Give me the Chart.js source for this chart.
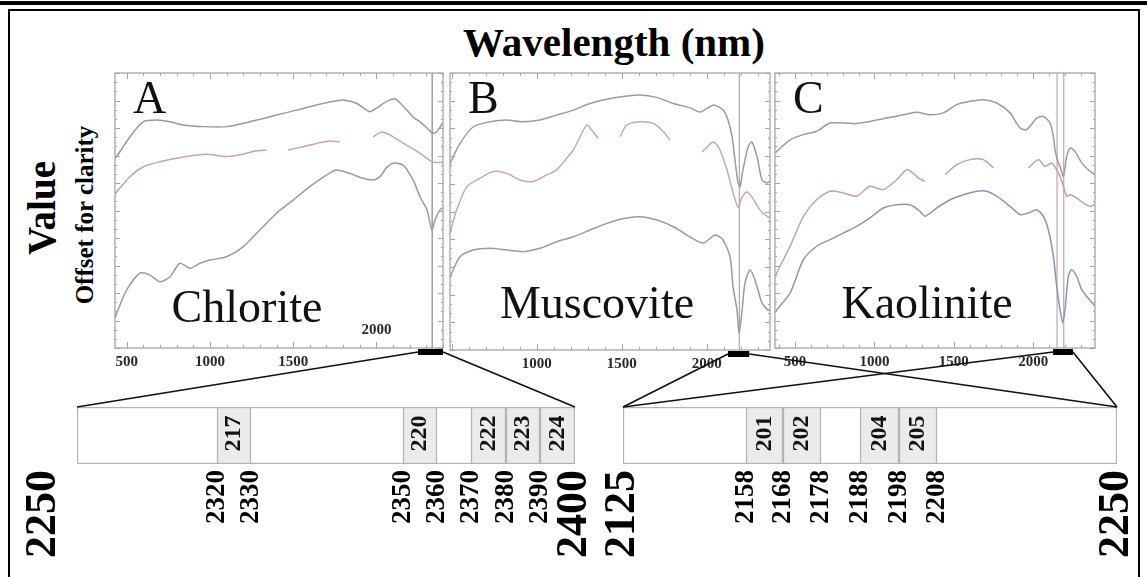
<!DOCTYPE html>
<html>
<head>
<meta charset="utf-8">
<script src="https://cdn.jsdelivr.net/npm/chart.js@4.4.1/dist/chart.umd.min.js"></script>
<style>
  html, body { margin: 0; padding: 0; background: #fff; }
  #page { position: relative; width: 1147px; height: 577px; overflow: hidden; font-family: "Liberation Serif", "Times New Roman", serif; }
  #page canvas, #page div { position: absolute; }
  #topRule { left: 0; top: 1px; width: 1147px; height: 4px; background: #000; }
  #frame { left: 8px; top: 9px; width: 1128px; height: 600px; border: 2px solid #000; }
  #title { left: 364px; top: 21px; width: 500px; text-align: center; font-weight: bold; font-size: 41px; line-height: 42px; }
  .vtext { text-align: center; font-weight: bold; transform: rotate(-90deg); white-space: nowrap; }
  #yTitle { left: -108px; top: 188px; width: 300px; height: 40px; line-height: 40px; font-size: 39px; }
  #ySub { left: -65px; top: 202px; width: 300px; height: 26px; line-height: 26px; font-size: 25px; }
</style>
</head>
<body>
<div id="page">
  <div id="topRule"></div>
  <div id="frame"></div>
  <div id="title">Wavelength (nm)</div>
  <div id="yTitle" class="vtext">Value</div>
  <div id="ySub" class="vtext">Offset for clarity</div>
  <canvas id="chartA" width="360" height="320" style="left:100px;top:60px"></canvas>
  <canvas id="chartB" width="345" height="320" style="left:440px;top:60px"></canvas>
  <canvas id="chartC" width="345" height="320" style="left:765px;top:60px"></canvas>
  <canvas id="bandLeft" width="640" height="237" style="left:0px;top:340px"></canvas>
  <canvas id="bandRight" width="620" height="237" style="left:560px;top:340px"></canvas>
</div>
<script>
// spectra: [wavelength nm, offset value]; null = gap in the trace
const chloriteUpper = [[432,6.9],[440,6.96],[520,7.68],[600,8.23],[680,8.29],[760,8.23],[840,8.11],[960,8.05],[1100,8.05],[1240,8.23],[1400,8.47],[1520,8.65],[1640,8.84],[1760,8.99],[1800,9.02],[1880,8.9],[1960,8.59],[2000,8.72],[2060,8.96],[2110,9.06],[2160,8.8],[2220,8.4],[2262,8.22],[2304,8.0],[2335,7.82],[2360,7.85],[2400,8.2]];
const chloriteMiddle = [[432,5.6],[440,5.68],[520,6.23],[600,6.59],[700,6.77],[800,6.9],[920,7.02],[1000,7.04],[1100,6.96],[1200,7.05],[1280,7.17],[1340,7.2],[1400,null],[1470,7.2],[1560,7.32],[1640,7.44],[1720,7.53],[1780,7.5],[1880,null],[1980,7.68],[2030,7.85],[2070,7.78],[2100,7.68],[2180,7.38],[2262,7.08],[2335,6.77],[2400,6.75]];
const chloriteLower = [[432,1.1],[440,1.26],[500,2.11],[580,2.72],[640,2.65],[700,2.41],[760,2.59],[820,3.08],[880,2.9],[940,3.08],[1000,3.2],[1100,3.32],[1200,3.68],[1300,4.29],[1400,4.9],[1500,5.38],[1600,5.87],[1700,6.29],[1760,6.47],[1840,6.35],[1920,6.17],[1980,6.11],[2022,6.23],[2060,6.55],[2100,6.72],[2160,6.65],[2220,6.11],[2262,5.5],[2304,5.02],[2322,4.55],[2334,4.29],[2352,4.65],[2382,5.02],[2400,5.1]];

const muscoviteUpper = [[490,6.7],[500,6.86],[549,7.46],[627,8.06],[725,8.24],[823,8.3],[921,8.24],[1019,8.3],[1117,8.48],[1215,8.66],[1313,8.9],[1412,9.05],[1510,9.15],[1608,9.21],[1706,9.12],[1804,8.9],[1902,8.74],[1961,8.59],[2038,8.84],[2097,8.66],[2125,8.3],[2149,7.69],[2166,6.86],[2184,6.03],[2196,5.9],[2213,6.5],[2243,7.33],[2266,7.51],[2296,6.97],[2325,6.14],[2355,6.03],[2372,6.1]];
const muscoviteMiddle = [[490,4.21],[529,5.05],[588,5.89],[666,6.2],[745,6.44],[823,6.38],[902,6.14],[980,6.08],[1059,6.32],[1117,6.5],[1176,6.92],[1215,7.22],[1255,7.7],[1294,8.12],[1323,7.94],[1362,7.64],[1420,null],[1490,7.7],[1529,8.12],[1608,8.24],[1686,8.18],[1745,7.88],[1784,7.58],[1880,null],[1973,7.15],[2038,7.51],[2078,7.22],[2119,6.5],[2155,5.67],[2184,5.16],[2208,5.52],[2237,5.7],[2266,5.52],[2314,5.05],[2361,4.8],[2372,4.8]];
const muscoviteLower = [[490,2.6],[500,2.77],[549,3.37],[627,3.61],[725,3.67],[823,3.61],[921,3.55],[1019,3.67],[1117,3.91],[1215,4.09],[1313,4.33],[1412,4.57],[1510,4.75],[1608,4.81],[1706,4.69],[1804,4.45],[1902,4.08],[1979,3.86],[2049,4.15],[2096,3.97],[2137,3.36],[2155,2.27],[2178,1.44],[2190,0.6],[2208,1.44],[2225,2.42],[2255,2.89],[2284,2.53],[2325,1.7],[2361,1.44],[2372,1.45]];

const kaoliniteUpper = [[376,7.1],[385,7.15],[469,7.57],[553,7.76],[636,7.88],[720,8.18],[804,8.18],[888,8.16],[972,8.24],[1077,8.36],[1182,8.48],[1266,8.57],[1350,8.48],[1434,8.55],[1518,8.85],[1602,8.97],[1686,9.03],[1770,8.91],[1854,8.55],[1917,8.0],[1959,7.94],[2022,8.36],[2064,8.42],[2106,8.18],[2127,7.69],[2137,7.21],[2158,6.73],[2169,6.6],[2190,6.24],[2211,6.97],[2232,7.27],[2263,7.15],[2305,6.73],[2347,6.48],[2389,6.3]];
const kaoliniteMiddle = [[376,2.6],[385,2.73],[469,3.7],[553,4.79],[636,5.39],[720,5.7],[804,5.64],[888,5.52],[972,5.88],[1056,5.76],[1140,6.12],[1203,6.48],[1245,6.36],[1277,6.18],[1319,6.06],[1380,null],[1445,6.3],[1518,6.67],[1602,6.85],[1686,6.85],[1749,6.55],[1850,null],[1969,6.55],[2032,6.85],[2074,6.6],[2116,6.73],[2148,6.48],[2169,6.24],[2190,5.88],[2211,5.51],[2232,5.57],[2274,5.45],[2316,5.27],[2358,5.15],[2389,5.21]];
const kaoliniteLower = [[376,1.3],[385,1.39],[469,2.0],[553,3.21],[636,3.7],[720,3.94],[804,4.18],[888,4.42],[972,4.73],[1056,5.09],[1140,5.21],[1224,5.21],[1287,4.97],[1319,4.79],[1392,5.09],[1476,5.39],[1560,5.57],[1644,5.7],[1707,5.7],[1770,5.52],[1854,5.15],[1917,4.85],[1969,4.91],[2022,5.03],[2064,4.79],[2095,4.3],[2127,3.33],[2148,2.24],[2169,1.39],[2186,0.91],[2200,1.39],[2221,2.6],[2242,2.85],[2274,2.6],[2305,2.12],[2337,1.88],[2389,1.51]];

// axis ticks printed under each panel (Chlorite's 2000 sits inside the plot)
const chloriteTicks = [500, 1000, 1500];
const chloriteInnerTick = 2000;
const muscoviteTicks = [1000, 1500, 2000];
const kaoliniteTicks = [500, 1000, 1500, 2000];

// absorption marker lines
const chloriteMarkers = [2335];
const muscoviteMarkers = [2192];
const kaoliniteMarkers = [2150, 2192];

// zoomed windows
const leftZoom = [2250, 2400];
const rightZoom = [2125, 2250];

// band strips
const leftBandTicks = [2250, 2320, 2330, 2350, 2360, 2370, 2380, 2390, 2400];
const leftBands = [[2320, 2330], [2350, 2360], [2370, 2380], [2380, 2390], [2390, 2400]];
const leftBandNames = ['217', '220', '222', '223', '224'];

const rightBandTicks = [2125, 2158, 2168, 2178, 2188, 2198, 2208, 2250];
const rightBands = [[2158, 2168], [2168, 2178], [2188, 2198], [2198, 2208]];
const rightBandNames = ['201', '202', '204', '205'];

const SERIF = '"Liberation Serif", "Times New Roman", serif';
const spectra = {};

// schematic (not-to-scale) axis: each interval between breaks gets its own share of the width
class SchematicScale extends Chart.LinearScale {
  static id = 'schematic';
  buildTicks() {
    return this.options.breaks.map(v => ({ value: v }));
  }
  toDecimal(value) {
    const b = this.options.breaks, w = this.options.segments;
    const total = w.reduce((s, v) => s + v, 0);
    let acc = 0;
    for (let i = 0; i < w.length; i++) {
      if (value <= b[i + 1] || i === w.length - 1) {
        return (acc + w[i] * (value - b[i]) / (b[i + 1] - b[i])) / total;
      }
      acc += w[i];
    }
    return 0;
  }
  getPixelForValue(value) {
    return value === null ? NaN : this.getPixelForDecimal(this.toDecimal(value));
  }
  // the first label sits a little left of its edge in the original figure
  getPixelForTick(index) {
    const p = this.getPixelForValue(this.ticks[index].value);
    return index === 0 ? p + (this.options.leadShift || 0) : p;
  }
  getValueForPixel(pixel) {
    const b = this.options.breaks, w = this.options.segments;
    const total = w.reduce((s, v) => s + v, 0);
    let d = this.getDecimalForPixel(pixel) * total;
    for (let i = 0; i < w.length; i++) {
      if (d <= w[i] || i === w.length - 1) return b[i] + (b[i + 1] - b[i]) * d / w[i];
      d -= w[i];
    }
    return b[0];
  }
}
Chart.register(SchematicScale);

const toPoints = pairs => pairs.map(([x, y]) => ({ x, y }));

function panelDecor(o) {
  return {
    id: 'panelDecor',
    beforeDatasetsDraw(chart) {
      const { ctx, chartArea: a, scales: { x } } = chart;
      ctx.save();
      ctx.strokeStyle = o.markerColor;
      ctx.lineWidth = 1.3;
      o.markers.forEach(m => {
        const px = x.getPixelForValue(m);
        ctx.beginPath(); ctx.moveTo(px, a.top); ctx.lineTo(px, a.bottom); ctx.stroke();
      });
      ctx.restore();
    },
    afterDraw(chart) {
      const { ctx, chartArea: a, scales: { x, y } } = chart;
      ctx.save();
      ctx.strokeStyle = '#a6a6a6';
      ctx.lineWidth = 1.3;
      ctx.strokeRect(a.left, a.top, a.right - a.left, a.bottom - a.top);
      ctx.lineWidth = 1;
      ctx.beginPath();
      for (let w = Math.ceil(x.min / 100) * 100; w <= x.max; w += 100) {
        const px = Math.round(x.getPixelForValue(w)) + 0.5;
        const len = w % 500 === 0 ? 6 : 3;
        ctx.moveTo(px, a.bottom); ctx.lineTo(px, a.bottom - len);
        ctx.moveTo(px, a.top); ctx.lineTo(px, a.top + len);
      }
      for (let v = 0; v <= 10; v += 1 / 3) {
        const py = Math.round(y.getPixelForValue(v)) + 0.5;
        const len = Math.abs(v - Math.round(v)) < 0.01 ? 5 : 2;
        ctx.moveTo(a.left, py); ctx.lineTo(a.left + len, py);
        ctx.moveTo(a.right, py); ctx.lineTo(a.right - len, py);
      }
      ctx.stroke();

      ctx.fillStyle = '#111';
      ctx.textBaseline = 'alphabetic';
      ctx.textAlign = 'left';
      ctx.font = '46px ' + SERIF;
      ctx.fillText(o.letter, a.left + 18, a.top + 40);
      ctx.textAlign = 'center';
      ctx.fillText(o.name, a.left + o.nameDx, a.bottom - o.nameDy);
      if (o.innerTick) {
        ctx.font = 'bold 15px ' + SERIF;
        ctx.fillStyle = '#2a2a2a';
        ctx.textBaseline = 'middle';
        ctx.fillText(String(o.innerTick), x.getPixelForValue(o.innerTick), a.bottom - 18);
      }
      ctx.restore();
    }
  };
}

function spectrum(id, o) {
  spectra[id] = new Chart(document.getElementById(id), {
    type: 'line',
    data: {
      datasets: o.curves.map((c, i) => ({
        data: toPoints(c),
        borderColor: o.colors[i],
        borderWidth: 1.5,
        pointRadius: 0,
        tension: 0.25,
        spanGaps: false,
        fill: false
      }))
    },
    options: {
      responsive: false,
      animation: false,
      events: [],
      layout: { padding: o.padding },
      plugins: { legend: { display: false }, tooltip: { enabled: false } },
      scales: {
        x: {
          type: 'linear', min: o.range[0], max: o.range[1],
          grid: { display: false, drawTicks: false },
          border: { display: false },
          afterBuildTicks: s => { s.ticks = o.ticks.map(v => ({ value: v })); },
          afterFit: s => { s.height = 22; },
          ticks: { padding: 5, color: '#2a2a2a', font: { family: SERIF, size: 15, weight: 'bold' }, callback: v => String(v) }
        },
        y: { display: false, min: 0, max: 10 }
      }
    },
    plugins: [panelDecor(o)]
  });
}

spectrum('chartA', {
  curves: [chloriteUpper, chloriteMiddle, chloriteLower],
  colors: ['#9a99a3', '#c9a2ab', '#9c9aa6'],
  range: [430, 2400], ticks: chloriteTicks, innerTick: chloriteInnerTick,
  markers: chloriteMarkers, markerColor: '#8f8f97',
  letter: 'A', name: 'Chlorite', nameDx: 132, nameDy: 26,
  padding: { left: 15, right: 17, top: 13, bottom: 10 }
});
spectrum('chartB', {
  curves: [muscoviteUpper, muscoviteMiddle, muscoviteLower],
  colors: ['#9b9b9e', '#cba6ae', '#999aa2'],
  range: [490, 2372], ticks: muscoviteTicks,
  markers: muscoviteMarkers, markerColor: '#c49ccc',
  letter: 'B', name: 'Muscovite', nameDx: 147, nameDy: 32,
  padding: { left: 10, right: 15, top: 13, bottom: 8 }
});
spectrum('chartC', {
  curves: [kaoliniteUpper, kaoliniteMiddle, kaoliniteLower],
  colors: ['#9c9c9f', '#c5a0ab', '#8e94ae'],
  range: [374, 2389], ticks: kaoliniteTicks,
  markers: kaoliniteMarkers, markerColor: '#d2a6b6',
  letter: 'C', name: 'Kaolinite', nameDx: 152, nameDy: 30,
  padding: { left: 10, right: 15, top: 13, bottom: 10 }
});

const cellText = {
  id: 'cellText',
  afterDatasetsDraw(chart) {
    const ctx = chart.ctx;
    chart.data.datasets.forEach((ds, i) => {
      if (!ds.cellName) return;
      const bar = chart.getDatasetMeta(i).data[0];
      ctx.save();
      ctx.translate((bar.x + bar.base) / 2, bar.y - 2);
      ctx.rotate(-Math.PI / 2);
      ctx.font = 'bold 24px ' + SERIF;
      ctx.fillStyle = '#111';
      ctx.textAlign = 'center';
      ctx.textBaseline = 'middle';
      ctx.fillText(ds.cellName, 0, 0);
      ctx.restore();
    });
  }
};

function zoomLinks(sources) {
  return {
    id: 'zoomLinks',
    afterDraw(chart) {
      const { ctx, chartArea } = chart;
      const xs = chart.scales.x;
      const boxL = xs.getPixelForValue(xs.min), boxR = xs.getPixelForValue(xs.max);
      ctx.save();
      ctx.strokeStyle = '#111';
      ctx.fillStyle = '#000';
      ctx.lineWidth = 1.6;
      sources.forEach(({ panel, range }) => {
        const src = spectra[panel];
        const dx = src.canvas.offsetLeft - chart.canvas.offsetLeft;
        const dy = src.canvas.offsetTop - chart.canvas.offsetTop;
        const l = src.scales.x.getPixelForValue(range[0]) + dx;
        const r = src.scales.x.getPixelForValue(range[1]) + dx;
        const yb = src.chartArea.bottom + dy + 4;
        ctx.fillRect(l, yb - 3, r - l, 6);
        ctx.beginPath();
        ctx.moveTo(l, yb); ctx.lineTo(boxL, chartArea.top);
        ctx.moveTo(r, yb); ctx.lineTo(boxR, chartArea.top);
        ctx.stroke();
      });
      ctx.restore();
    }
  };
}

function bandStrip(id, o) {
  const edges = o.ticks;
  const last = edges.length - 1;
  return new Chart(document.getElementById(id), {
    type: 'bar',
    data: {
      labels: ['band'],
      datasets: [
        { data: [[edges[0], edges[last]]], backgroundColor: '#fff', borderColor: '#b3b3b3', order: 1 },
        ...o.bands.map((b, i) => ({ data: [b], cellName: o.names[i], backgroundColor: '#ebebeb', borderColor: '#b3b3b3', order: 0 }))
      ]
    },
    options: {
      indexAxis: 'y',
      responsive: false,
      animation: false,
      events: [],
      layout: { padding: o.padding },
      datasets: { bar: { grouped: false, barPercentage: 1, categoryPercentage: 1, borderWidth: 1.5, borderSkipped: false } },
      plugins: { legend: { display: false }, tooltip: { enabled: false } },
      scales: {
        x: {
          type: 'schematic', min: edges[0], max: edges[last],
          breaks: edges, segments: o.segments, leadShift: o.leadShift,
          grid: { display: false, drawTicks: false },
          border: { display: false },
          afterFit: s => { s.height = 100; },
          ticks: {
            autoSkip: false, minRotation: 90, maxRotation: 90, padding: 6, color: '#000',
            font: c => ({ family: SERIF, weight: 'bold', size: (c.index === 0 || c.index === last) ? 44 : 27 }),
            callback: v => String(v)
          }
        },
        y: { display: false }
      }
    },
    plugins: [cellText, zoomLinks(o.sources)]
  });
}

bandStrip('bandLeft', {
  ticks: leftBandTicks, bands: leftBands, names: leftBandNames,
  segments: [140, 34, 152, 34, 34, 35, 34, 35], leadShift: -33,
  sources: [{ panel: 'chartA', range: leftZoom }],
  padding: { left: 77, right: 65, top: 67, bottom: 13 }
});
bandStrip('bandRight', {
  ticks: rightBandTicks, bands: rightBands, names: rightBandNames,
  segments: [123, 37, 38, 39, 39, 38, 180], leadShift: 0,
  sources: [{ panel: 'chartB', range: rightZoom }, { panel: 'chartC', range: rightZoom }],
  padding: { left: 63, right: 63, top: 67, bottom: 13 }
});
</script>
</body>
</html>
